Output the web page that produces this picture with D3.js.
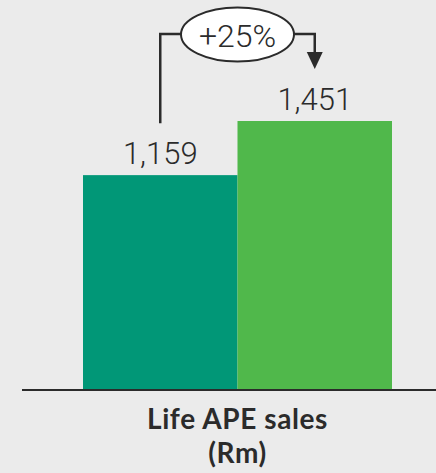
<!DOCTYPE html>
<html>
<head>
<meta charset="utf-8">
<script src="https://cdn.jsdelivr.net/npm/d3@7"></script>
<style>
  body { margin: 0; background: #ebebeb; }
  svg { display: block; }
</style>
</head>
<body>
<div id="chart"></div>
<script>
// data
var periods = ["Prior year", "Current year"];
var sales = [1159, 1451];
var valueLabels = ["1,159", "1,451"];
var growthLabel = "+25%";
var categoryLines = ["Life APE sales", "(Rm)"];
var barColors = ["#019777", "#50b84b"];

var svgWidth = 436, svgHeight = 473;

var svg = d3.select("#chart")
  .append("svg")
  .attr("width", svgWidth)
  .attr("height", svgHeight);

svg.append("rect")
  .attr("width", svgWidth)
  .attr("height", svgHeight)
  .attr("fill", "#ebebeb");

var x = d3.scaleBand()
  .domain(periods)
  .range([83, 392])
  .padding(0);

var y = d3.scaleLinear()
  .domain([0, 1451])
  .range([390, 121]);

// bars
svg.selectAll("rect.bar")
  .data(sales)
  .enter()
  .append("rect")
  .attr("class", "bar")
  .attr("x", (d, i) => x(periods[i]))
  .attr("y", d => y(d))
  .attr("width", x.bandwidth())
  .attr("height", d => y(0) - y(d))
  .attr("fill", (d, i) => barColors[i]);

// baseline
svg.append("line")
  .attr("x1", 22)
  .attr("x2", svgWidth)
  .attr("y1", y(0))
  .attr("y2", y(0))
  .attr("stroke", "#2b2b2b")
  .attr("stroke-width", 2);

// value labels
svg.selectAll("text.value")
  .data(sales)
  .enter()
  .append("text")
  .attr("class", "value")
  .attr("x", (d, i) => x(periods[i]) + x.bandwidth() / 2)
  .attr("y", d => y(d) - 11)
  .attr("text-anchor", "middle")
  .attr("font-family", "Roboto")
  .attr("font-weight", 300)
  .attr("font-size", "31px")
  .attr("fill", "#2b2b2b")
  .text((d, i) => valueLabels[i]);

// growth bracket
var x1 = x(periods[0]) + x.bandwidth() / 2;
var x2 = x(periods[1]) + x.bandwidth() / 2;
var by = 34;
var cx = (x1 + x2) / 2;

svg.append("path")
  .attr("d", `M${x1},${y(sales[0]) - 52}V${by}H${x2}V${by + 22}`)
  .attr("fill", "none")
  .attr("stroke", "#2b2b2b")
  .attr("stroke-width", 2.5);

svg.append("path")
  .attr("d", `M${x2 - 8},${by + 18}L${x2 + 8},${by + 18}L${x2},${by + 35}Z`)
  .attr("fill", "#2b2b2b");

svg.append("ellipse")
  .attr("cx", cx)
  .attr("cy", by + 0.5)
  .attr("rx", 56.5)
  .attr("ry", 27)
  .attr("fill", "#ffffff")
  .attr("stroke", "#2b2b2b")
  .attr("stroke-width", 2);

svg.append("text")
  .attr("x", cx)
  .attr("y", by + 13)
  .attr("text-anchor", "middle")
  .attr("font-family", "Roboto")
  .attr("font-weight", 300)
  .attr("font-size", "32px")
  .attr("fill", "#2b2b2b")
  .text(growthLabel);

// category label
svg.selectAll("text.cat")
  .data(categoryLines)
  .enter()
  .append("text")
  .attr("class", "cat")
  .attr("x", cx)
  .attr("y", (d, i) => 429 + i * 34)
  .attr("text-anchor", "middle")
  .attr("font-family", "Lato")
  .attr("font-weight", 700)
  .attr("font-size", "28px")
  .attr("letter-spacing", "0.6px")
  .attr("fill", "#2b2b2b")
  .text(d => d);
</script>
</body>
</html>
